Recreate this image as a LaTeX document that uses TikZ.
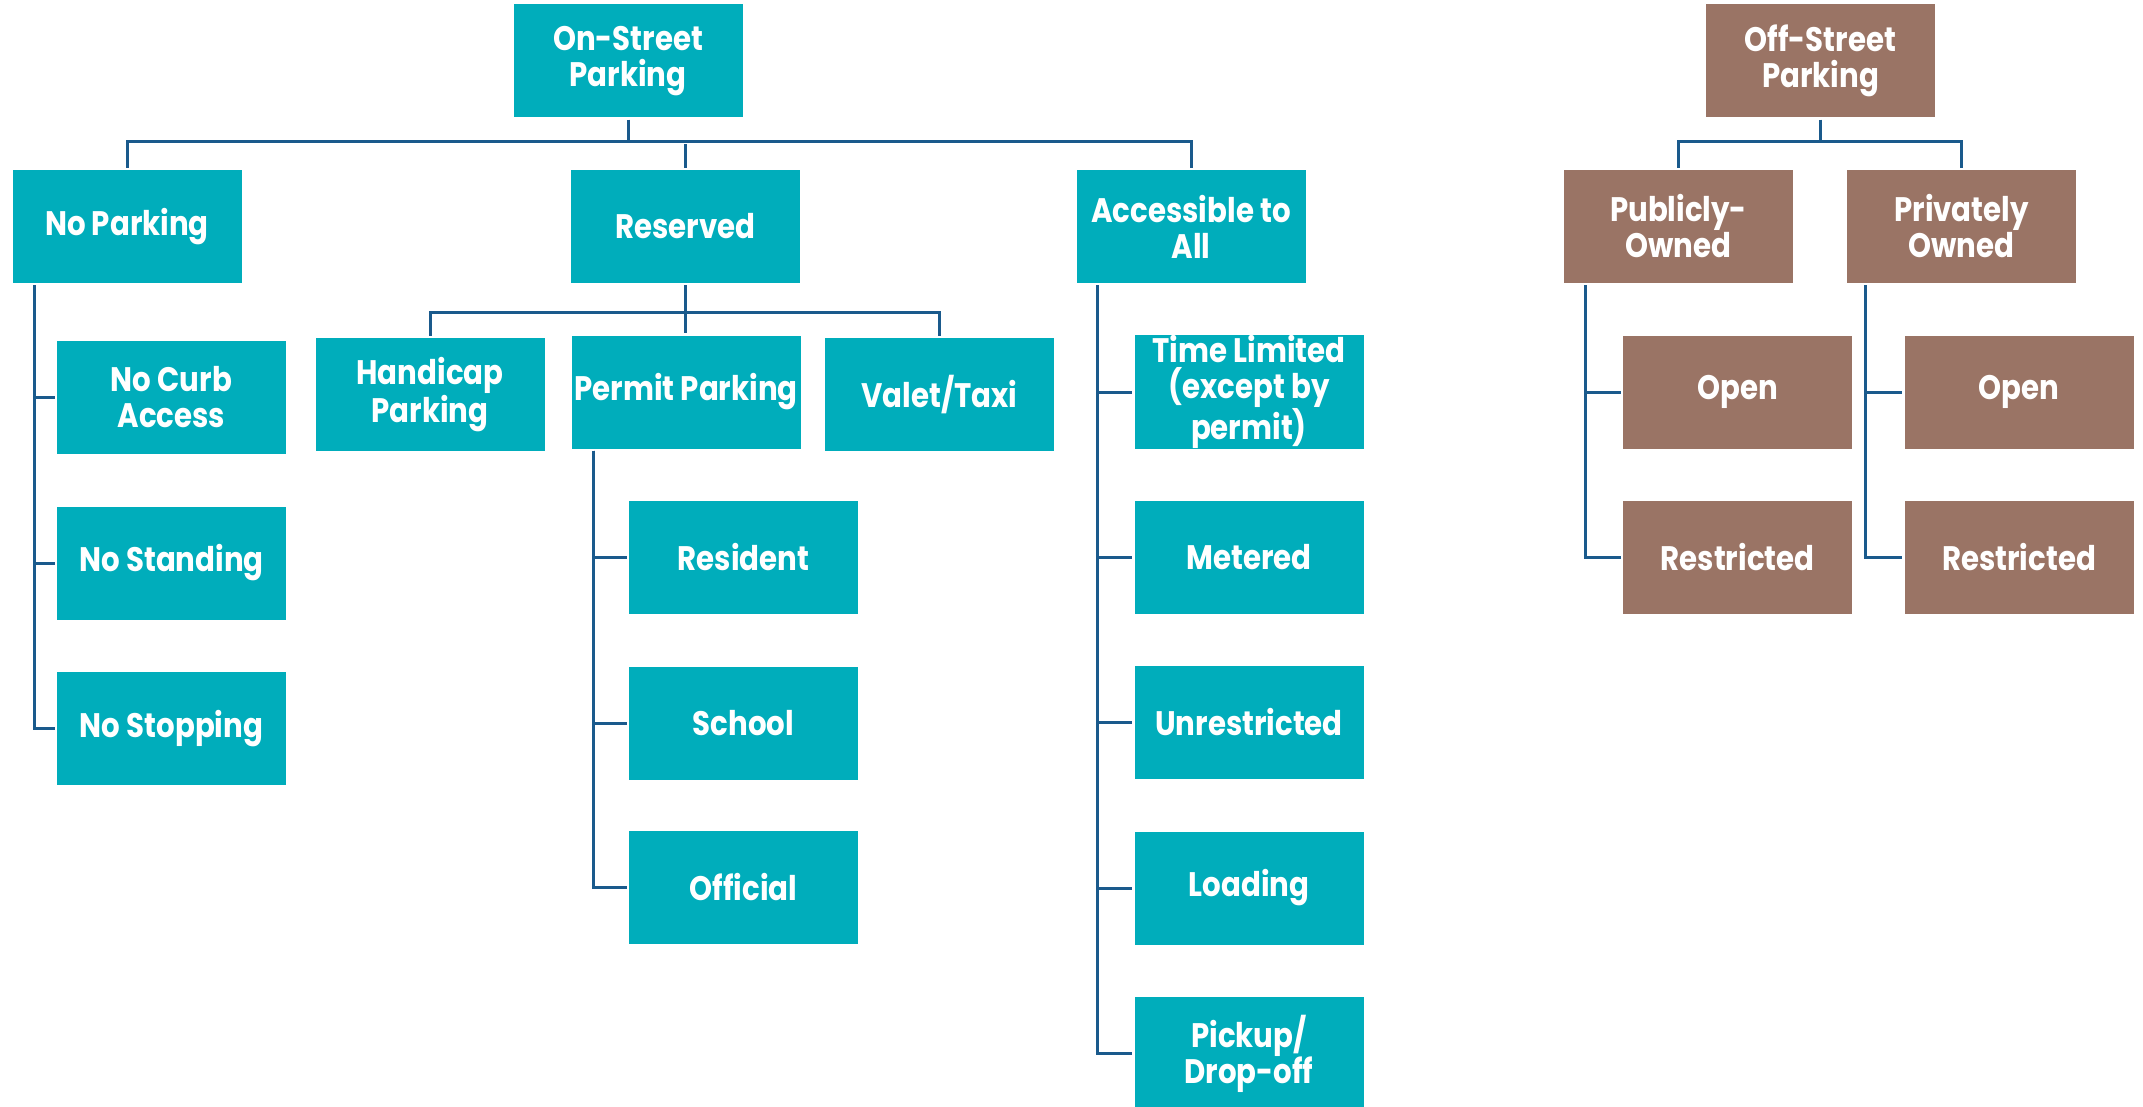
\documentclass[tikz,border=0pt]{standalone}
\usepackage{fontspec}
\setmainfont{Poppins}[FakeStretch=0.86]
\definecolor{tealbox}{RGB}{0,173,187}
\definecolor{brownbox}{RGB}{154,116,101}
\definecolor{linecol}{RGB}{26,90,140}
\begin{document}
\begin{tikzpicture}[x=1pt,y=-1pt,
  box/.style={rectangle, fill=tealbox, text=white, minimum width=229pt, minimum height=113pt,
    inner sep=0pt, align=center, font=\fontsize{34}{36}\selectfont\bfseries},
  offbox/.style={box, fill=brownbox},
  conn/.style={draw=linecol, line width=3pt, shorten <=2pt, shorten >=2pt}]
\useasboundingbox (0,0) rectangle (2143,1107);
\clip (0,0) rectangle (2143,1107);
\coordinate (bus1) at (0,142);
\coordinate (bus2) at (0,312);
% On-street
\node[box] (onst) at (628,61) {On-Street\\Parking};
\node[box] (nopark) at (127,226.5) {No Parking};
\node[box] (reserved) at (685.5,226.5) {Reserved};
\node[box] (acc) at (1191,226.5) {Accessible to\\All};
\node[box] (nocurb) at (171.5,397.5) {No Curb\\Access};
\node[box] (nostand) at (171.5,563) {No Standing};
\node[box] (nostop) at (171.5,728.5) {No Stopping};
\node[box] (handi) at (430,394.5) {Handicap\\Parking};
\node[box] (permit) at (686,392) {Permit Parking};
\node[box] (valet) at (939.5,394.5) {Valet/Taxi};
\node[box] (resident) at (743.5,557) {Resident};
\node[box] (school) at (743.5,723) {School};
\node[box] (official) at (743.5,887.5) {Official};
\node[box] (tl) at (1249,392) {Time Limited\\(except by\\permit)};
\node[box] (meter) at (1249,557.5) {Metered};
\node[box] (unres) at (1249,722.5) {Unrestricted};
\node[box] (load) at (1249,888) {Loading};
\node[box] (pick) at (1249,1053.5) {Pickup/\\Drop-off};
% Off-street
\node[offbox] (offst) at (1820.5,61) {Off-Street\\Parking};
\node[offbox] (pub) at (1678.5,226.5) {Publicly-\\Owned};
\node[offbox] (priv) at (1961.5,226.5) {Privately\\Owned};
\node[offbox] (open1) at (1737.5,392) {Open};
\node[offbox] (restr1) at (1737.5,557) {Restricted};
\node[offbox] (open2) at (2019,392) {Open};
\node[offbox] (restr2) at (2019,557) {Restricted};
% connectors on-street
\draw[conn] (onst.south) -- (onst.south |- bus1);
\draw[conn] (nopark.north) -- (nopark.north |- bus1) -- (acc.north |- bus1) -- (acc.north);
\draw[conn] (reserved.north) -- (reserved.north |- bus1);
\draw[conn] (handi.north) -- (handi.north |- bus2) -- (valet.north |- bus2) -- (valet.north);
\draw[conn] (reserved.south) -- (reserved.south |- permit.north);
\foreach \c in {nocurb,nostand,nostop}
  \draw[conn] ([xshift=22pt]nopark.south west) |- (\c.west);
\foreach \c in {resident,school,official}
  \draw[conn] ([xshift=22pt]permit.south west) |- (\c.west);
\foreach \c in {tl,meter,unres,load,pick}
  \draw[conn] ([xshift=21pt]acc.south west) |- (\c.west);
% connectors off-street
\draw[conn] (offst.south) -- (offst.south |- bus1);
\draw[conn] (pub.north) -- (pub.north |- bus1) -- (priv.north |- bus1) -- (priv.north);
\foreach \c in {open1,restr1}
  \draw[conn] ([xshift=22pt]pub.south west) |- (\c.west);
\foreach \c in {open2,restr2}
  \draw[conn] ([xshift=19pt]priv.south west) |- (\c.west);
\end{tikzpicture}
\end{document}
